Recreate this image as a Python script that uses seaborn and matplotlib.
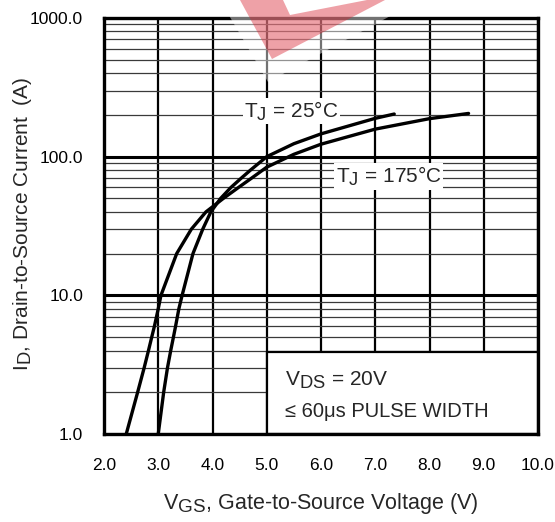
import numpy as np
import pandas as pd
import matplotlib
matplotlib.use("Agg")
import matplotlib.pyplot as plt
import matplotlib._mathtext as mathtext_internals
from matplotlib.patches import Rectangle, Polygon
from matplotlib.ticker import FixedLocator, LogLocator, NullFormatter
import seaborn as sns

# transfer characteristic
vgs_25 = [3.0, 3.1, 3.17, 3.23, 3.28, 3.32, 3.38, 3.44, 3.64, 3.82, 3.97,
          4.15, 4.34, 4.53, 4.7, 5.0, 5.5, 6.0, 7.0, 7.35]
id_25 = [1, 2, 3, 4, 5, 6, 8, 10, 20, 30, 40,
         50, 60, 70, 80, 100, 124, 146, 189, 203]

vgs_175 = [2.41, 2.62, 2.74, 2.82, 2.88, 2.93, 3.0, 3.05, 3.34, 3.61, 3.88,
           4.2, 4.48, 4.72, 5.0, 5.5, 6.0, 7.0, 8.0, 8.72]
id_175 = [1, 2, 3, 4, 5, 6, 8, 10, 20, 30, 40,
          50, 60, 70, 84, 104, 123, 158, 188, 205]

x_ticks = [2, 3, 4, 5, 6, 7, 8, 9, 10]
x_ticklabels = ["2.0", "3.0", "4.0", "5.0", "6.0", "7.0", "8.0", "9.0", "10.0"]
y_ticks = [1, 10, 100, 1000]
y_ticklabels = ["1.0", "10.0", "100.0", "1000.0"]


def build_frame():
    df25 = pd.DataFrame({"vgs": vgs_25, "id": id_25, "temp": "25"})
    df175 = pd.DataFrame({"vgs": vgs_175, "id": id_175, "temp": "175"})
    return pd.concat([df25, df175], ignore_index=True)


def draw_plot(df):
    sns.set_style("white")
    plt.rcParams["font.family"] = ["Liberation Sans", "DejaVu Sans"]
    plt.rcParams["mathtext.fontset"] = "custom"
    plt.rcParams["mathtext.rm"] = "Liberation Sans"
    plt.rcParams["mathtext.default"] = "regular"
    # datasheet subscripts are nearly full size
    mathtext_internals.SHRINK_FACTOR = 0.88

    fig = plt.figure(figsize=(5.55, 5.22), dpi=100)
    ax = fig.add_axes([104 / 555, 1 - 434 / 522, 434 / 555, 416 / 522])

    sns.lineplot(data=df, x="vgs", y="id", hue="temp",
                 palette={"25": "black", "175": "black"},
                 estimator=None, sort=False, legend=False,
                 linewidth=2.4, ax=ax, zorder=2)

    ax.set_yscale("log")
    ax.set_xlim(2, 10)
    ax.set_ylim(1, 1000)

    ax.xaxis.set_major_locator(FixedLocator(x_ticks))
    ax.set_xticklabels(x_ticklabels)
    ax.yaxis.set_major_locator(FixedLocator(y_ticks))
    ax.set_yticklabels(y_ticklabels)
    ax.yaxis.set_minor_locator(LogLocator(base=10, subs=np.arange(2, 10)))
    ax.yaxis.set_minor_formatter(NullFormatter())
    ax.tick_params(axis="both", which="both", length=0, labelsize=12.5,
                   colors="black")
    ax.tick_params(axis="x", pad=17)
    ax.tick_params(axis="y", pad=15)

    ax.set_axisbelow(True)
    ax.grid(True, axis="x", which="major", color="black", linewidth=1.6)
    ax.grid(True, axis="y", which="major", color="black", linewidth=2.2)
    ax.grid(True, axis="y", which="minor", color="#3a3a3a", linewidth=0.9)

    for s in ax.spines.values():
        s.set_color("black")
        s.set_linewidth(2.4)

    ax.set_xlabel("V$_{GS}$, Gate-to-Source Voltage (V)", fontsize=15.5)
    ax.set_ylabel("I$_D$, Drain-to-Source Current  (A)", fontsize=15)
    ax.xaxis.set_label_coords(0.5, -0.166)
    ax.xaxis.label.set_va("center")
    ax.yaxis.set_label_coords(-0.187, 0.505)
    ax.yaxis.label.set_va("center")

    # curve labels with white background cutting the grid
    box = dict(facecolor="white", edgecolor="none", pad=1)
    ax.text(5.45, 213, "T$_J$ = 25°C", fontsize=15, ha="center", va="center",
            bbox=box, zorder=3)
    ax.text(7.25, 72, "T$_J$ = 175°C", fontsize=15, ha="center", va="center",
            bbox=box, zorder=3)

    # test condition box
    ax.add_patch(Rectangle((5, 1), 5, 2.9, facecolor="white",
                           edgecolor="black", linewidth=1.6, zorder=1.5))
    ax.text(5.33, 2.42, "V$_{DS}$ = 20V", fontsize=15, ha="left", va="center",
            zorder=3)
    ax.text(5.33, 1.45, "≤ 60μs PULSE WIDTH", fontsize=14.5, ha="left",
            va="center", zorder=3)

    # faint watermark at the top
    def fpx(pts):
        return [(px / 555, 1 - py / 522) for px, py in pts]
    fig.patches.append(Polygon(fpx([(220, 0), (420, 0), (268, 82)]),
                               closed=True, transform=fig.transFigure,
                               facecolor="white", edgecolor="none",
                               alpha=0.45, zorder=10))
    fig.patches.append(Polygon(fpx([(240, 0), (283, 0), (290, 15), (367, 0),
                                    (385, 0), (272, 59)]),
                               closed=True, transform=fig.transFigure,
                               facecolor="#d8202e", edgecolor="none",
                               alpha=0.42, zorder=11))
    return fig


if __name__ == "__main__":
    df = build_frame()
    fig = draw_plot(df)
    fig.savefig("out.png", dpi=100)
